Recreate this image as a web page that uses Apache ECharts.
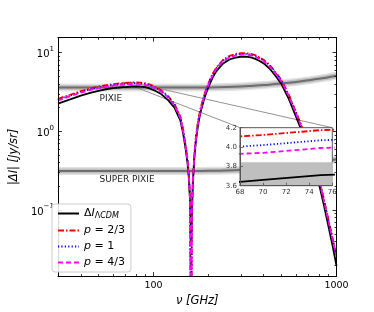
<!DOCTYPE html>
<html><head><meta charset="utf-8">
<script src="https://cdn.jsdelivr.net/npm/echarts@6/dist/echarts.min.js"></script>
<style>html,body{margin:0;padding:0;background:#fff}#c{width:374px;height:312px}</style>
</head><body><div id="c"></div>
<script>
// ---------------- data ----------------
const freq = [30,35,40,45,50,55,60,65,68,70,75,80,85,90,95,100,110,120,130,140,145,150,153,156,158,160.6,162,164,167,170,175,180,190,200,210,220,240,260,280,300,320,340,360,380,400,430,460,500,550,600,650,700,750,800,850,900,950,1000];
const lcdm = [2.25,2.55,2.85,3.08,3.28,3.43,3.54,3.61,3.64,3.66,3.71,3.73,3.71,3.64,3.51,3.35,2.98,2.5,2.0,1.38,0.95,0.58,0.41,0.25,0.14,0.04,0.09,0.22,0.45,0.72,1.2,1.7,2.7,3.72,4.8,5.8,7.3,8.2,8.65,8.88,8.9,8.72,8.35,7.85,7.3,6.3,5.2,4.0,2.55,1.55,0.97,0.58,0.36,0.22,0.12,0.065,0.036,0.0196];
const p23 = [2.59,2.92,3.25,3.51,3.72,3.88,3.99,4.07,4.11,4.125,4.175,4.195,4.175,4.09,3.95,3.77,3.34,2.81,2.25,1.55,1.07,0.65,0.46,0.28,0.154,0.0005,0.103,0.246,0.5,0.81,1.34,1.9,3.02,4.16,5.36,6.46,8.13,9.11,9.62,9.85,9.87,9.68,9.29,8.72,8.13,7.03,5.83,4.51,2.89,1.77,1.12,0.68,0.42,0.262,0.144,0.079,0.045,0.0267];
const p1 = [2.52,2.85,3.17,3.42,3.63,3.78,3.89,3.97,4.005,4.02,4.07,4.09,4.07,3.99,3.85,3.67,3.26,2.74,2.19,1.51,1.04,0.63,0.45,0.27,0.15,0.0005,0.1,0.24,0.49,0.79,1.31,1.85,2.94,4.05,5.22,6.3,7.92,8.88,9.38,9.6,9.62,9.43,9.05,8.5,7.92,6.85,5.68,4.4,2.82,1.73,1.09,0.66,0.41,0.255,0.14,0.077,0.044,0.026];
const p43 = [2.47,2.8,3.11,3.36,3.56,3.71,3.82,3.89,3.93,3.94,3.99,4.01,3.99,3.91,3.78,3.6,3.2,2.69,2.15,1.48,1.02,0.62,0.44,0.265,0.147,0.0005,0.098,0.235,0.48,0.775,1.29,1.81,2.88,3.97,5.12,6.18,7.77,8.71,9.2,9.42,9.44,9.25,8.88,8.34,7.77,6.72,5.57,4.32,2.77,1.7,1.07,0.65,0.4,0.25,0.137,0.076,0.043,0.0255];

const bandFreq   = [30,50,100,150,200,250,300,350,400,500,600,700,800,900,1000];
const pixie      = [3.6,3.6,3.6,3.6,3.62,3.66,3.72,3.8,3.88,4.05,4.25,4.45,4.65,4.87,5.1];
const pixieUpper = [3.84,3.84,3.845,3.845,3.87,3.91,3.97,4.05,4.14,4.32,4.54,4.75,4.97,5.2,5.45];
const superPixie = [0.313,0.313,0.313,0.313,0.315,0.318,0.323,0.33,0.337,0.352,0.37,0.387,0.404,0.423,0.443];

const seriesNames = ['lcdm','p = 2/3','p = 1','p = 4/3'];
const xMajorTicks = [100,1000];
const xMinorTicks = [40,50,60,70,80,90,200,300,400,500,600,700,800,900];
const yMajorTicks = [0.1,1,10];
const yMinorTicks = [0.02,0.03,0.04,0.05,0.06,0.07,0.08,0.09,0.2,0.3,0.4,0.5,0.6,0.7,0.8,0.9,2,3,4,5,6,7,8,9];
const insetXTicks = [68,70,72,74,76];
const insetYTicks = [3.6,3.8,4.0,4.2];
const annotPixie = [58.4,2.57];
const annotSuper = [71.6,0.245];
const zoomBox = {x:[68,76], y:[3.6,4.2]};

// ---------------- build ----------------
const zip = (xs, ys) => xs.map((x,i)=>[x, ys[i]]);
const FONT = 'DejaVu Sans';
const X = {min:30, max:1000};
const Y = {min:0.0145, max:15.5};

function xAx(pos, ticks, len, labels){
  return {type:'log', logBase:10, gridIndex:0, position:pos, min:X.min, max:X.max,
    splitLine:{show:false}, z:6,
    axisLine:{show:true, onZero:false, lineStyle:{color:'#000', width:1}},
    axisTick:{show:true, inside:true, length:len, customValues:ticks, lineStyle:{color:'#000', width:0.8}},
    axisLabel: labels ? {show:true, customValues:ticks, formatter:v=>String(Math.round(v)), fontSize:9.5, color:'#000', fontFamily:FONT, margin:4} : {show:false}
  };
}
function yAx(pos, ticks, len, labels){
  return {type:'log', logBase:10, gridIndex:0, position:pos, min:Y.min, max:Y.max,
    splitLine:{show:false}, z:6,
    axisLine:{show:true, onZero:false, lineStyle:{color:'#000', width:1}},
    axisTick:{show:true, inside:true, length:len, customValues:ticks, lineStyle:{color:'#000', width:0.8}},
    axisLabel: labels ? {show:true, customValues:ticks, margin:4, fontFamily:FONT, color:'#000',
      formatter:v=>{const e=Math.round(Math.log10(v)); return '{b|10}{s|'+(e<0?'\u2212':'')+Math.abs(e)+'}';},
      rich:{b:{fontSize:10, fontFamily:FONT, color:'#000', lineHeight:14, verticalAlign:'bottom'},
            s:{fontSize:7, fontFamily:FONT, color:'#000', lineHeight:9, verticalAlign:'top'}}} : {show:false}
  };
}

const xAxis = [
  Object.assign(xAx('bottom', xMajorTicks, 4, true), {name:'\u03bd [GHz]', nameLocation:'middle', nameGap:17,
     nameTextStyle:{fontSize:11.5, fontStyle:'italic', fontFamily:FONT, color:'#000'}}),
  Object.assign(xAx('bottom', xMinorTicks, 2, false), {axisLine:{show:false}}),
  xAx('top', xMajorTicks, 4, false),
  Object.assign(xAx('top', xMinorTicks, 2, false), {axisLine:{show:false}}),
  {type:'value', gridIndex:1, position:'bottom', min:68, max:76, interval:2, z:12,
   splitLine:{show:false}, axisLine:{show:true, lineStyle:{color:'#555', width:1}},
   axisTick:{show:true, inside:true, length:3, lineStyle:{color:'#555', width:0.8}},
   axisLabel:{fontSize:7, color:'#333', fontFamily:FONT, margin:3}}
];
const yAxis = [
  Object.assign(yAx('left', yMajorTicks, 4, true), {name:'|\u0394I| [Jy/sr]', nameLocation:'middle', nameGap:27, nameRotate:90,
     nameTextStyle:{fontSize:11.5, fontStyle:'italic', fontFamily:FONT, color:'#000'}}),
  Object.assign(yAx('left', yMinorTicks, 2, false), {axisLine:{show:false}}),
  yAx('right', yMajorTicks, 4, false),
  Object.assign(yAx('right', yMinorTicks, 2, false), {axisLine:{show:false}}),
  {type:'value', gridIndex:1, position:'left', min:3.6, max:4.2, interval:0.2, z:12,
   splitLine:{show:false}, axisLine:{show:true, lineStyle:{color:'#555', width:1}},
   axisTick:{show:true, inside:true, length:3, lineStyle:{color:'#555', width:0.8}},
   axisLabel:{fontSize:7, color:'#333', fontFamily:FONT, margin:3, formatter:v=>v.toFixed(1)}}
];

const styles = [
  {color:'#000000', type:'solid', width:1.8},
  {color:'#ff0000', type:[6,2,1.5,2], width:1.8},
  {color:'#0000ff', type:[1.2,2.2], width:1.8},
  {color:'#ff00ff', type:[5,3], width:1.8}
];
const curves = [lcdm, p23, p1, p43];

const series = [];
function band(vals){
  [[8,'rgba(160,160,160,0.30)'],[5,'rgba(140,140,140,0.40)'],[2,'rgba(95,95,95,0.85)']].forEach(([w,c])=>{
    series.push({type:'line', xAxisIndex:0, yAxisIndex:0, data:zip(bandFreq, vals), symbol:'none', smooth:true,
      lineStyle:{color:c, width:w}, z:1, silent:true, animation:false});
  });
}
band(pixie); band(superPixie);
curves.forEach((arr,i)=>{
  series.push({name:seriesNames[i], type:'line', xAxisIndex:0, yAxisIndex:0, data:zip(freq,arr), symbol:'none',
    lineStyle:styles[i], itemStyle:{color:styles[i].color}, z:2+i*0.1, clip:true, animation:false});
});
series.push({type:'line', xAxisIndex:4, yAxisIndex:4, data:zip(bandFreq,pixieUpper), symbol:'none',
  lineStyle:{width:0}, areaStyle:{color:'#bfbfbf', opacity:1, origin:'start'}, z:11, clip:true, silent:true, animation:false});
curves.forEach((arr,i)=>{
  series.push({type:'line', xAxisIndex:4, yAxisIndex:4, data:zip(freq,arr), symbol:'none',
    lineStyle:styles[i], z:11.5, clip:true, silent:true, animation:false});
});

const chart = echarts.init(document.getElementById('c'), null, {renderer:'canvas'});
chart.setOption({
  animation:false,
  backgroundColor:'#fff',
  textStyle:{fontFamily:FONT},
  grid:[{left:46.7, right:37.5, top:37.7, bottom:34.7, containLabel:false},
        {left:240, top:127.7, width:92.3, height:58, containLabel:false}],
  xAxis, yAxis, series,
  legend:{data:seriesNames, orient:'vertical', left:52, top:204, itemWidth:21, itemHeight:10, itemGap:5,
    padding:[4,6,4,5], backgroundColor:'rgba(255,255,255,0.85)', borderColor:'#cccccc', borderWidth:1, borderRadius:3,
    itemStyle:{opacity:0},
    formatter:n => n==='lcdm' ? '{n|\u0394}{i|I}{l|\u039b}{c|CDM}' : '{i|p} '+n.slice(2),
    z:20,
    textStyle:{fontSize:11, color:'#000', fontFamily:FONT, lineHeight:11,
      rich:{n:{fontSize:11, fontFamily:FONT}, i:{fontSize:11, fontStyle:'italic', fontFamily:FONT},
            l:{fontSize:8, fontFamily:FONT, padding:[5,0,0,0]}, c:{fontSize:8, fontStyle:'italic', fontFamily:FONT, padding:[5,0,0,0]}}}}
});

const m = (p)=>chart.convertToPixel({xAxisIndex:0, yAxisIndex:0}, p);
const n = (p)=>chart.convertToPixel({xAxisIndex:4, yAxisIndex:4}, p);
const zUL = m([zoomBox.x[0], zoomBox.y[1]]), zLR = m([zoomBox.x[1], zoomBox.y[0]]);
const iUL = n([zoomBox.x[0], zoomBox.y[1]]), iLR = n([zoomBox.x[1], zoomBox.y[0]]);
const aP = m(annotPixie), aS = m(annotSuper);
const txt = (p, t) => ({type:'text', z:5, silent:true, x:p[0], y:p[1],
  style:{text:t, fill:'#222', font:'9px "DejaVu Sans"', textAlign:'center', textVerticalAlign:'middle'}});
chart.setOption({graphic:[
  {type:'rect', z:10, silent:true, shape:{x:iUL[0], y:iUL[1], width:iLR[0]-iUL[0], height:iLR[1]-iUL[1]},
   style:{fill:'#fff', stroke:'#555', lineWidth:1}},
  {type:'rect', z:1, silent:true, shape:{x:zUL[0], y:zUL[1], width:zLR[0]-zUL[0], height:zLR[1]-zUL[1]},
   style:{fill:'none', stroke:'#777', lineWidth:0.8}},
  {type:'line', z:1, silent:true, shape:{x1:zUL[0], y1:zUL[1], x2:iUL[0], y2:iUL[1]}, style:{stroke:'#777', lineWidth:0.8}},
  {type:'line', z:1, silent:true, shape:{x1:zLR[0], y1:zUL[1], x2:iLR[0], y2:iUL[1]}, style:{stroke:'#777', lineWidth:0.8}},
  txt(aP, 'PIXIE'), txt(aS, 'SUPER PIXIE')
]});
</script></body></html>
